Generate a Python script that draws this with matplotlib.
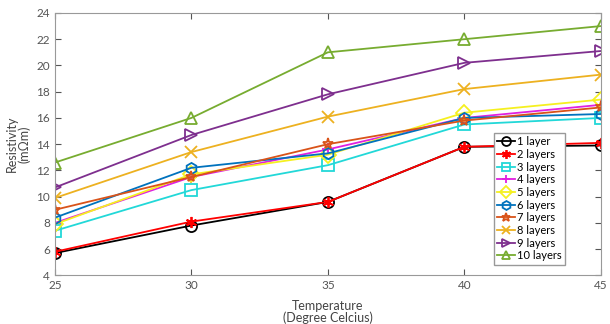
import matplotlib.pyplot as plt

plt.rcParams['font.family'] = ['Lato', 'DejaVu Sans']

temps = [25, 30, 35, 40, 45]
labels = ['1 layer', '2 layers', '3 layers', '4 layers', '5 layers',
          '6 layers', '7 layers', '8 layers', '9 layers', '10 layers']
r1 = [5.7, 7.8, 9.6, 13.8, 13.9]
r2 = [5.8, 8.1, 9.6, 13.8, 14.1]
r3 = [7.4, 10.5, 12.4, 15.5, 16.0]
r4 = [8.0, 11.5, 13.6, 16.0, 17.0]
r5 = [7.9, 11.7, 13.2, 16.4, 17.4]
r6 = [8.4, 12.2, 13.3, 16.0, 16.3]
r7 = [9.0, 11.5, 14.0, 15.8, 16.8]
r8 = [9.9, 13.4, 16.1, 18.2, 19.3]
r9 = [10.7, 14.7, 17.8, 20.2, 21.1]
r10 = [12.6, 16.0, 21.0, 22.0, 23.0]
series = [r1, r2, r3, r4, r5, r6, r7, r8, r9, r10]

colors = ['black', 'red', '#22d8d8', '#e020e0', '#f5f020', '#0072bd',
          '#d95319', '#edb120', '#7e2f8e', '#77ac30']
markers = ['o', (6, 2, 0), 's', '+', 'D', 'h', '*', 'x', '>', '^']

fig = plt.figure(figsize=(6.1, 3.24), dpi=100)
ax = fig.add_axes([0.09, 0.15, 0.895, 0.81])

for vals, lab, c, m in zip(series, labels, colors, markers):
    ax.plot(temps, vals, color=c, marker=m, markersize=8, linewidth=1.3,
            markerfacecolor='none', markeredgewidth=1.3, label=lab)

ax.set_xlim(25, 45)
ax.set_ylim(4, 24)
ax.set_xticks([25, 30, 35, 40, 45])
ax.set_yticks(range(4, 25, 2))
ax.tick_params(direction='in', top=True, right=True, labelsize=8.5,
               colors='#555555', length=4)
for s in ax.spines.values():
    s.set_color('#999999')
ax.set_xlabel('Temperature\n(Degree Celcius)', fontsize=9, color='#444444',
              labelpad=6, linespacing=1.0)
ax.set_ylabel('Resistivity\n(m\u03a9m)', fontsize=9, color='#444444',
              labelpad=4, linespacing=1.0)

leg = ax.legend(loc='lower right', bbox_to_anchor=(0.945, 0.02), fontsize=8,
                handlelength=1.6, handletextpad=0.2, labelspacing=0.15,
                borderpad=0.3, fancybox=False, framealpha=1,
                edgecolor='#999999', markerscale=0.8)

fig.savefig('out.png', dpi=100)
